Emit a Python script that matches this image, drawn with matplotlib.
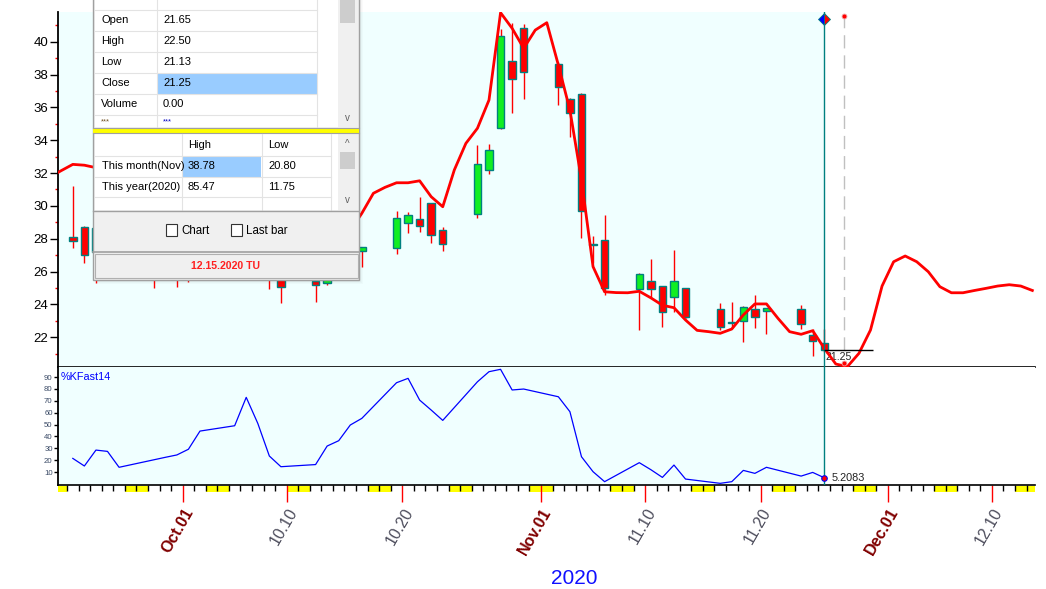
import matplotlib
matplotlib.use("Agg")
import matplotlib.pyplot as plt
import matplotlib.dates as mdates
from matplotlib.patches import Rectangle
import numpy as np
import pandas as pd

plt.rcParams['font.family'] = ['Liberation Sans', 'DejaVu Sans']

# ---- 일봉 데이터 (Sep 21 ~ Nov 25, 2020) ----
candle_dates = [
    '2020-09-21', '2020-09-22', '2020-09-23', '2020-09-24', '2020-09-25',
    '2020-09-28', '2020-09-29', '2020-09-30', '2020-10-01', '2020-10-02',
    '2020-10-05', '2020-10-06', '2020-10-07', '2020-10-08', '2020-10-09',
    '2020-10-12', '2020-10-13', '2020-10-14', '2020-10-15', '2020-10-16',
    '2020-10-19', '2020-10-20', '2020-10-21', '2020-10-22', '2020-10-23',
    '2020-10-26', '2020-10-27', '2020-10-28', '2020-10-29', '2020-10-30',
    '2020-11-02', '2020-11-03', '2020-11-04', '2020-11-05', '2020-11-06',
    '2020-11-09', '2020-11-10', '2020-11-11', '2020-11-12', '2020-11-13',
    '2020-11-16', '2020-11-17', '2020-11-18', '2020-11-19', '2020-11-20',
    '2020-11-23', '2020-11-24', '2020-11-25',
]
opens = [28.09, 28.70, 27.17, 27.80, 28.40, 26.80, 26.90, 27.00, 27.30, 27.60,
         29.00, 29.70, 31.00, 29.20, 25.90, 25.45, 25.30, 26.50, 27.00, 27.27,
         27.45, 28.94, 29.18, 30.16, 28.53, 29.49, 32.17, 34.76, 38.81, 40.82,
         38.62, 36.49, 36.80, 27.68, 27.92, 24.92, 25.43, 25.12, 24.47, 24.98,
         23.70, 22.90, 22.99, 23.70, 23.60, 23.70, 22.12, 21.65]
highs = [31.21, 28.78, 28.80, 28.90, 28.60, 27.50, 27.60, 27.80, 28.30, 29.50,
         30.00, 31.50, 31.40, 29.50, 26.40, 26.00, 27.00, 27.50, 28.00, 27.50,
         29.71, 29.63, 30.56, 30.20, 28.71, 33.71, 33.77, 40.76, 41.12, 41.08,
         38.78, 36.60, 36.85, 28.17, 29.45, 25.90, 26.78, 25.15, 27.31, 25.00,
         24.07, 24.15, 23.90, 24.57, 23.80, 23.96, 22.48, 22.50]
lows = [27.42, 26.54, 25.29, 27.00, 26.20, 24.98, 26.00, 25.08, 25.38, 26.50,
        28.00, 29.00, 28.80, 24.92, 24.10, 24.17, 25.18, 26.00, 26.60, 26.30,
        27.07, 28.33, 28.43, 27.72, 27.27, 29.28, 31.92, 34.68, 35.64, 36.53,
        36.14, 34.21, 28.06, 26.50, 24.57, 22.44, 24.37, 22.64, 23.56, 23.15,
        22.44, 22.55, 21.73, 22.58, 22.18, 22.50, 20.88, 21.13]
closes = [27.88, 27.01, 28.64, 28.50, 26.50, 26.90, 27.20, 27.40, 27.90, 29.20,
          29.60, 31.20, 29.40, 26.00, 25.08, 25.20, 26.60, 27.10, 27.80, 27.48,
          29.24, 29.43, 28.78, 28.21, 27.66, 32.53, 33.39, 40.35, 37.71, 38.15,
          37.22, 35.64, 29.67, 27.64, 24.98, 25.83, 24.92, 23.56, 25.43, 23.21,
          22.61, 22.88, 23.86, 23.21, 23.76, 22.79, 21.75, 21.25]

# %KFast14 (same trading days)
kfast = [21.5, 15.1, 28.5, 27.4, 14.0, 20.3, 22.4, 24.4, 29.2, 44.5,
         49.0, 72.9, 51.0, 23.5, 14.5, 16.3, 31.9, 36.4, 49.6, 55.2,
         85.2, 88.9, 70.6, 62.2, 53.5, 86.0, 94.5, 96.5, 79.1, 79.9,
         73.4, 60.8, 22.9, 10.3, 1.9, 17.9, 12.0, 5.5, 15.9, 4.1,
         0.5, 1.9, 11.4, 8.9, 14.0, 6.6, 9.7, 5.2083]

# 빨간 예측선 (daily, Sep 19 ~ Dec 13)
line_start = '2020-09-19'
line_vals = [31.75, 32.15, 32.53, 32.48, 32.33, 32.10, 31.80, 31.40, 31.00, 30.60,
             30.30, 30.00, 29.80, 29.80, 29.90, 30.00, 30.00, 29.90, 29.60, 29.10,
             28.60, 28.20, 27.90, 27.70, 27.60, 27.80, 28.50, 29.55, 30.77, 31.13,
             31.41, 31.41, 31.53, 30.56, 29.95, 32.19, 33.81, 34.73, 36.45, 41.77,
             40.82, 39.60, 40.71, 41.16, 38.58, 35.84, 31.58, 26.30, 24.77, 24.72,
             24.71, 24.80, 24.40, 23.95, 23.80, 23.05, 22.42, 22.34, 22.24, 22.50,
             23.36, 24.03, 24.03, 23.15, 22.34, 22.18, 22.40, 21.33, 20.37, 20.21,
             21.02, 22.44, 25.12, 26.60, 26.95, 26.60, 25.99, 25.08, 24.71, 24.71,
             24.85, 24.98, 25.12, 25.20, 25.12, 24.85]

# x축 라벨
tick_dates = ['2020-10-01', '2020-10-10', '2020-10-20', '2020-11-01',
              '2020-11-10', '2020-11-20', '2020-12-01', '2020-12-10']
tick_labels = ['Oct.01', '10.10', '10.20', 'Nov.01', '11.10', '11.20', 'Dec.01', '12.10']

# 데이터 창 내용
info_names = ['Open', 'High', 'Low', 'Close', 'Volume', '***']
info_values = ['21.65', '22.50', '21.13', '21.25', '0.00', '***']
range_rows = ['This month(Nov)', 'This year(2020)']
range_high = ['38.78', '85.47']
range_low = ['20.80', '11.75']
window_date = '12.15.2020 TU'

last_close = 21.25
last_k = 5.2083
cursor_date = '2020-11-27 05:40'
cursor_low = 20.45

W, H = 1046, 589
CYAN = '#F0FFFF'
TEAL = '#008080'


def frac(x0, y0, x1, y1):
    # 픽셀 박스 -> figure 비율
    return [x0 / W, 1 - y1 / H, (x1 - x0) / W, (y1 - y0) / H]


def num(d, hours=0):
    return mdates.date2num(pd.to_datetime(d) + pd.Timedelta(hours=hours))


fig = plt.figure(figsize=(W / 100, H / 100), dpi=100)
ax = fig.add_axes(frac(58, 11.7, 1035, 367.3))
axk = fig.add_axes(frac(58, 367.3, 1035, 485))

xmin, xmax = num('2020-09-20 05:15'), num('2020-12-13 17:30')
xc = num(candle_dates, 12)
last_x = xc[-1]

for a in (ax, axk):
    a.set_xlim(xmin, xmax)
    a.axvspan(xmin, last_x, color=CYAN, zorder=0, lw=0)
    a.axvline(last_x, color=TEAL, lw=1, zorder=5)
    for s in ('top', 'right'):
        a.spines[s].set_visible(False)
    a.spines['left'].set_linewidth(1.3)
    a.spines['bottom'].set_linewidth(1.2)

# ---- 캔들 ----
o, h, l, c = map(np.array, (opens, highs, lows, closes))
body_colors = np.where(c >= o, '#11EE22', '#FF0000')
ax.vlines(xc, l, h, color='red', lw=1, zorder=2)
ax.bar(xc, c - o, bottom=o, width=0.64, color=body_colors,
       edgecolor=TEAL, linewidth=1, zorder=3)

# ---- 예측선 ----
line_x = num(pd.date_range(line_start, periods=len(line_vals), freq='D'), 12)
ax.plot(line_x, line_vals, color='red', lw=2.0, zorder=4)

# 마지막 봉 표시
ax.plot(last_x, 41.36, marker='D', ms=6.5, fillstyle='left', mfc='blue',
        mfcalt='red', mec=TEAL, mew=0.6, zorder=6, clip_on=False)
cx = num(cursor_date)
ax.vlines(cx, 21.2, 41.5, colors='#C0C0C0', linestyles=(0, (9.5, 5)), lw=1, zorder=3)
ax.plot(cx, 41.58, 'o', ms=3.5, mfc='red', mec='#F0A0A0', mew=0.6, zorder=6)
ax.plot(cx, cursor_low, 'o', ms=3.5, mfc='red', mec='#F0A0A0', mew=0.6, zorder=6)
ax.hlines(last_close, last_x, num('2020-11-29 17:00'), color='black', lw=1, zorder=5)
ax.annotate(f'{last_close:.2f}', (last_x, last_close), xytext=(1, -2),
            textcoords='offset pixels', ha='left', va='top', fontsize=7.6, color='#222222')

ax.set_ylim(20.17, 41.83)
ax.set_xticks([])
ax.set_yticks(np.arange(22, 41, 2))
ax.set_yticks(np.arange(21, 42, 2), minor=True)
ax.tick_params(axis='y', which='major', length=5.5, width=1, color='black',
               labelsize=9.5, pad=1.5)
ax.tick_params(axis='y', which='minor', length=2.5, width=1, color='red')

# ---- %KFast14 ----
axk.plot(xc, kfast, color='#0000FF', lw=0.9, zorder=4)
axk.plot(last_x, last_k, 'o', ms=4, mfc='red', mec='blue', mew=0.8, zorder=6)
axk.annotate(f'{last_k}', (last_x, last_k), xytext=(7, 0), textcoords='offset pixels',
             ha='left', va='center', fontsize=7.8, color='#222222')
axk.text(0.003, 0.92, '%KFast14', transform=axk.transAxes, color='#0000FF',
         fontsize=7.8, va='center', ha='left')
axk.set_ylim(-0.9, 98.2)
axk.set_yticks(range(10, 100, 10))
axk.tick_params(axis='y', length=3, width=1, labelsize=5.6, labelcolor='#3A4A66', pad=0.8)

# x축: 일별 눈금, 표시 날짜는 빨간 긴 눈금
major = num(tick_dates)
days = num(pd.date_range('2020-09-21', '2020-12-13', freq='D'))
minor = [d for d in days if d not in set(major)]
axk.set_xticks(major)
axk.set_xticks(minor, minor=True)
axk.tick_params(axis='x', which='major', length=12, width=1, color='red', labelbottom=False)
axk.tick_params(axis='x', which='minor', length=4, width=1, color='black')

# 주말 노란 블록
for s in pd.date_range('2020-09-19', '2020-12-12', freq='W-SAT'):
    x0, x1 = max(num(s), xmin), min(num(s) + 2, xmax)
    axk.add_patch(Rectangle((x0, -0.06), x1 - x0, 0.055, transform=axk.get_xaxis_transform(),
                            color='#FFFF00', lw=0, clip_on=False, zorder=1))

for d, lab in zip(major, tick_labels):
    month = lab[0].isalpha()
    axk.annotate(lab, (d, 0), xycoords=('data', 'axes fraction'), xytext=(7, -24),
                 textcoords='offset pixels', rotation=60, rotation_mode='anchor',
                 ha='right', va='center', fontsize=11.5,
                 color='#800000' if month else '#4D4D5C',
                 fontweight='bold' if month else 'normal')

fig.text(574 / W, 1 - 578 / H, '2020', color='#1010FF', fontsize=15, ha='center', va='center')

# ---- 데이터 창 (overlay, 픽셀 좌표) ----
ov = fig.add_axes([0, 0, 1, 1], zorder=20)
ov.set_xlim(0, W)
ov.set_ylim(H, 0)
ov.axis('off')


def box(x0, y0, x1, y1, fc, ec='none', lw=0, alpha=1):
    ov.add_patch(Rectangle((x0, y0), x1 - x0, y1 - y0, fc=fc, ec=ec, lw=lw, alpha=alpha))


def hline(y, x0, x1, color='#E3E3E3', lw=0.8):
    ov.plot([x0, x1], [y, y], color=color, lw=lw)


def vline(x, y0, y1, color='#E3E3E3', lw=0.8):
    ov.plot([x, x], [y0, y1], color=color, lw=lw)


# 그림자
for i, a in enumerate([0.10, 0.07, 0.04, 0.02]):
    box(359 + i, -5, 360 + i, 280 + i, 'black', alpha=a)
    box(97, 279.5 + i, 360 + i, 280.5 + i, 'black', alpha=a)

box(92.7, -5, 359, 279.5, '#F0F0F0', '#A0A0A0', 1)

# 상단 표
box(95.3, -5, 338, 127, 'white')
box(338, -5, 357.5, 127, '#F0F0F0')
box(340, -5, 355, 22.7, '#CDCDCD')
ov.text(347.5, 118, 'v', ha='center', va='center', fontsize=7, color='#606060')
row_y = [20, 41.3, 62.3, 83.3, 104, 121.5]
box(156.7, 72.7, 317.3, 93.7, '#99CCFF')
for yl in [10, 30.7, 51.7, 72.7, 93.7, 114.7]:
    hline(yl, 95.3, 317.3)
vline(156.7, -5, 127)
vline(317.3, -5, 127)
for i, (nm, val) in enumerate(zip(info_names, info_values)):
    star = nm == '***'
    ov.text(101, row_y[i], nm, fontsize=5.5 if star else 8, va='center',
            color='#705020' if star else 'black')
    ov.text(163, row_y[i], val, fontsize=5.5 if star else 8, va='center',
            color='#0000C0' if star else 'black')

# 노란 구분선
hline(127.6, 93, 358.7, color='#A0A0A0', lw=0.8)
box(93, 128.3, 358.7, 132.7, '#FFFF00')
hline(133.4, 93, 358.7, color='#A0A0A0', lw=0.8)

# 하단 표 (월/년 고저)
box(95.3, 134, 338, 210, 'white')
box(338, 134, 357.5, 210, '#F0F0F0')
box(340, 151.7, 355, 169, '#CDCDCD')
ov.text(347.5, 144, '^', ha='center', va='center', fontsize=7, color='#606060')
ov.text(347.5, 200, 'v', ha='center', va='center', fontsize=7, color='#606060')
box(181.7, 155.7, 261.3, 176.7, '#99CCFF')
for yl in [155.7, 176.7, 197.3]:
    hline(yl, 95.3, 331)
for xl in [181.7, 261.7, 331]:
    vline(xl, 134, 210)
ov.text(188, 145, 'High', fontsize=8, va='center')
ov.text(268, 145, 'Low', fontsize=8, va='center')
for i, nm in enumerate(range_rows):
    yy = 166 + 21 * i
    ov.text(101.7, yy, nm, fontsize=8, va='center')
    ov.text(188, yy, range_high[i], fontsize=8, va='center')
    ov.text(268, yy, range_low[i], fontsize=8, va='center')
hline(210.5, 93, 358.7, color='#A0A0A0', lw=1)

# 체크박스
box(165.7, 224.3, 176.7, 236, 'white', '#333333', 0.8)
ov.text(181, 230.5, 'Chart', fontsize=8.3, va='center')
box(230.7, 224.3, 241.7, 236, 'white', '#333333', 0.8)
ov.text(246, 230.5, 'Last bar', fontsize=8.3, va='center')

# 날짜 박스
hline(252.2, 93, 358.7, color='#A0A0A0', lw=1.2)
box(94.5, 254.3, 357.5, 278.3, '#F0F0F0', '#B0B0B0', 0.8)
ov.text(225.7, 266.3, window_date, fontsize=7.6, fontweight='bold', color='#FF2020',
        ha='center', va='center')

fig.savefig('out.png', dpi=100)
plt.close(fig)
